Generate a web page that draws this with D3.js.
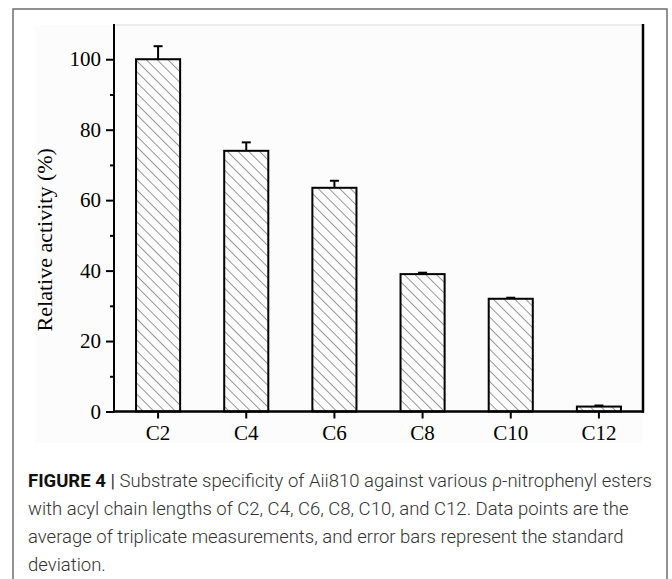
<!DOCTYPE html>
<html>
<head>
<meta charset="utf-8">
<script src="https://cdn.jsdelivr.net/npm/d3@7"></script>
<style>
  body { margin: 0; background: #fff; }
  svg { display: block; }
</style>
</head>
<body>
<script>
var categories = ['C2', 'C4', 'C6', 'C8', 'C10', 'C12'];
var activity = [100, 74, 63.5, 39, 32, 1.4];
var errors = [3.7, 2.4, 2.0, 0.4, 0.3, 0.3];
var yTicks = [0, 20, 40, 60, 80, 100];
var minorTicks = [10, 30, 50, 70, 90];
var captionLines = [
  ['FIGURE 4 | ', 'Substrate specificity of Aii810 against various \u03c1-nitrophenyl esters'],
  ['', 'with acyl chain lengths of C2, C4, C6, C8, C10, and C12. Data points are the'],
  ['', 'average of triplicate measurements, and error bars represent the standard'],
  ['', 'deviation.']
];

var W = 672, H = 579;
var plot = {left: 114, right: 643, top: 24, bottom: 411.5};

var svg = d3.select('body').append('svg')
    .attr('width', W)
    .attr('height', H);

// figure frame
svg.append('rect')
    .attr('x', 13).attr('y', 9)
    .attr('width', 654).attr('height', H + 10)
    .attr('fill', '#fff')
    .attr('stroke', '#6e6e6e')
    .attr('stroke-width', 1.5);

// off-white image area
svg.append('rect')
    .attr('x', 35).attr('y', 25)
    .attr('width', 608).attr('height', 418)
    .attr('fill', '#fcfcfc');

var defs = svg.append('defs');
defs.append('pattern')
    .attr('id', 'hatch')
    .attr('patternUnits', 'userSpaceOnUse')
    .attr('width', 7.6).attr('height', 7.6)
    .attr('patternTransform', 'rotate(-45)')
    .append('line')
    .attr('x1', 0).attr('y1', 0)
    .attr('x2', 0).attr('y2', 7.6)
    .attr('stroke', '#333')
    .attr('stroke-width', 1);

var x = d3.scaleBand()
    .domain(categories)
    .range([plot.left, plot.right])
    .paddingInner(0.5)
    .paddingOuter(0.25);

var y = d3.scaleLinear()
    .domain([0, 110])
    .range([plot.bottom, plot.top]);

var serif = 'Liberation Serif, Times New Roman, serif';

// top frame line (faint)
svg.append('line')
    .attr('x1', plot.left).attr('x2', plot.right)
    .attr('y1', plot.top + 1).attr('y2', plot.top + 1)
    .attr('stroke', '#dcdcdc')
    .attr('stroke-width', 1);

// bars
svg.append('g').selectAll('rect')
    .data(activity)
    .enter().append('rect')
    .attr('x', function (d, i) { return x(categories[i]); })
    .attr('y', function (d) { return y(d); })
    .attr('width', x.bandwidth())
    .attr('height', function (d) { return y(0) - y(d); })
    .attr('fill', 'url(#hatch)')
    .attr('stroke', '#000')
    .attr('stroke-width', 2);

// error bars
var eb = svg.append('g').attr('stroke', '#000').attr('stroke-width', 2);
activity.forEach(function (d, i) {
  var cx = x(categories[i]) + x.bandwidth() / 2;
  eb.append('line')
      .attr('x1', cx).attr('x2', cx)
      .attr('y1', y(d)).attr('y2', y(d + errors[i]));
  eb.append('line')
      .attr('x1', cx - 4.5).attr('x2', cx + 4.5)
      .attr('y1', y(d + errors[i])).attr('y2', y(d + errors[i]));
});

// y axis
var yAxis = svg.append('g')
    .attr('transform', 'translate(' + plot.left + ',0)')
    .call(d3.axisLeft(y).tickValues(yTicks).tickSize(8).tickPadding(5));
yAxis.select('.domain').remove();
yAxis.selectAll('line').attr('stroke-width', 2);
yAxis.selectAll('text')
    .attr('font-family', serif)
    .attr('font-size', 21)
    .attr('fill', '#000');

svg.append('g')
    .attr('transform', 'translate(' + plot.left + ',0)')
    .call(d3.axisLeft(y).tickValues(minorTicks).tickSize(4).tickFormat(''))
    .call(function (g) { g.select('.domain').remove(); })
    .selectAll('line').attr('stroke-width', 2);

svg.append('line')
    .attr('x1', plot.left).attr('x2', plot.left)
    .attr('y1', plot.top).attr('y2', plot.bottom + 1)
    .attr('stroke', '#000').attr('stroke-width', 2);

svg.append('line')
    .attr('x1', plot.right).attr('x2', plot.right)
    .attr('y1', plot.top).attr('y2', plot.bottom + 1)
    .attr('stroke', '#000').attr('stroke-width', 2.5);

// x axis
var xAxis = svg.append('g')
    .attr('transform', 'translate(0,' + plot.bottom + ')')
    .call(d3.axisBottom(x).tickSize(7).tickPadding(7));
xAxis.select('.domain').remove();
xAxis.selectAll('line').attr('stroke-width', 2);
xAxis.selectAll('text')
    .attr('font-family', serif)
    .attr('font-size', 21)
    .attr('fill', '#000');

svg.append('line')
    .attr('x1', plot.left - 1).attr('x2', plot.right + 1)
    .attr('y1', plot.bottom).attr('y2', plot.bottom)
    .attr('stroke', '#000').attr('stroke-width', 2.5);

svg.append('text')
    .attr('transform', 'translate(52,' + ((plot.top + plot.bottom) / 2 + 22) + ') rotate(-90)')
    .attr('text-anchor', 'middle')
    .attr('font-family', serif)
    .attr('font-size', 22)
    .text('Relative activity (%)');

// caption
var cap = svg.append('g')
    .attr('font-family', 'Roboto, Liberation Sans, sans-serif')
    .attr('font-size', 18)
    .attr('fill', '#333');
var capTexts = [];
captionLines.forEach(function (ln, i) {
  var t = cap.append('text')
      .attr('x', 28)
      .attr('y', 487 + i * 28);
  if (ln[0]) {
    t.append('tspan').attr('font-weight', 700).attr('fill', '#111').text('FIGURE 4 ');
    t.append('tspan').attr('font-weight', 400).text('| ');
  }
  t.append('tspan').attr('font-weight', 300).text(ln[1]);
  capTexts.push(t);
});
// size the caption so the first line spans the same width as the original
var w0 = capTexts[0].node().getComputedTextLength();
cap.attr('font-size', 18 * 624 / w0);
</script>
</body>
</html>
